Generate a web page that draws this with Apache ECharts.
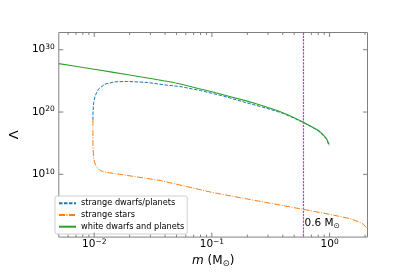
<!DOCTYPE html>
<html><head><meta charset="utf-8">
<script src="https://cdn.jsdelivr.net/npm/echarts@6/dist/echarts.min.js"></script>
<style>html,body{margin:0;padding:0;background:#fff}#c{width:409px;height:273px}</style>
</head><body><div id="c"></div>
<script>
const seriesNames = ['strange dwarfs/planets', 'strange stars', 'white dwarfs and planets'];

// mass m (solar masses) and log10(Lambda)
const dwarfMass = [0.00975, 0.00975, 0.00989, 0.01019, 0.01086, 0.01233, 0.01493, 0.01928, 0.02818, 0.0413, 0.0532, 0.08, 0.126, 0.2, 0.3, 0.4, 0.5, 0.6, 0.7, 0.8, 0.9, 0.95, 0.99];
const dwarfLogLambda = [18.72, 19.68, 21.55, 22.61, 23.68, 24.48, 24.85, 24.91, 24.75, 24.32, 24.11, 23.45, 22.55, 21.45, 20.55, 19.8, 19.02, 18.3, 17.64, 17.0, 16.1, 15.5, 14.6];

const starMass = [0.00975, 0.00975, 0.00989, 0.01019, 0.01052, 0.0112, 0.01233, 0.01694, 0.0363, 0.1, 0.222, 0.6, 1.08, 1.5, 1.81, 1.95, 2.06];
const starLogLambda = [18.72, 14.5, 12.48, 11.68, 11.15, 10.61, 10.35, 9.97, 9.01, 7.1, 5.87, 4.37, 3.45, 2.87, 2.3, 1.95, 1.4];

const wdMass = [0.005, 0.01, 0.02, 0.03, 0.05, 0.1, 0.2, 0.3, 0.4, 0.5, 0.6, 0.7, 0.8, 0.9, 0.95, 0.99];
const wdLogLambda = [27.77, 26.87, 25.95, 25.39, 24.63, 23.25, 21.75, 20.72, 19.9, 19.1, 18.35, 17.68, 17.07, 16.16, 15.6, 14.8];

// axis ranges
const xRange = [0.005, 2.1];
const yRange = [0.83, 5.9e32];

// ticks
const xMajorTicks = [0.01, 0.1, 1];
const xMinorTicks = [0.006, 0.007, 0.008, 0.009, 0.02, 0.03, 0.04, 0.05, 0.06, 0.07, 0.08, 0.09, 0.2, 0.3, 0.4, 0.5, 0.6, 0.7, 0.8, 0.9, 2];
const yMajorTicks = [1e10, 1e20, 1e30];
const yTickExponents = [10, 20, 30];

// annotation
const markerMass = 0.6;
const markerLabelLogLambda = 2.13;

const FONT = 'DejaVu Sans';
const AXIS_COLOR = '#808080';
const MARK_COLOR = 'rgb(205,50,205)';

function pairs(ms, logs) { return ms.map((m, i) => [m, Math.pow(10, logs[i])]); }

function expLabel(v, allowed) {
  const l = Math.log10(v);
  const e = Math.round(l);
  if (Math.abs(l - e) > 1e-6) return '';
  if (allowed && allowed.indexOf(e) < 0) return '';
  return '{a|10}{b|' + (e < 0 ? '\u2212' + (-e) : e) + '}';
}
const expRich = {
  a: { fontSize: 10.5, fontFamily: FONT, color: '#000', lineHeight: 13, verticalAlign: 'middle' },
  b: { fontSize: 7.5, fontFamily: FONT, color: '#000', lineHeight: 7, verticalAlign: 'top' }
};

const chart = echarts.init(document.getElementById('c'), null, { renderer: 'canvas' });

const xTickData = xMajorTicks.map(v => [v, 1e10, 1]).concat(xMinorTicks.map(v => [v, 1e10, 0]));
const yTickData = yMajorTicks.map(v => [0.1, v, 1]);

function tickLine(x1, y1, x2, y2) {
  return { type: 'line', shape: { x1, y1, x2, y2 }, style: { stroke: AXIS_COLOR, lineWidth: 1 } };
}

chart.setOption({
  animation: false,
  backgroundColor: '#fff',
  grid: { left: 50.5, top: 32.5, right: 41.5, bottom: 34.5, show: true, borderColor: AXIS_COLOR, borderWidth: 1, backgroundColor: 'transparent' },
  xAxis: {
    type: 'log', min: xRange[0], max: xRange[1], logBase: 10,
    axisLine: { show: false }, axisTick: { show: false }, splitLine: { show: false },
    axisLabel: { interval: 0, margin: 1, formatter: v => expLabel(v), rich: expRich },
    name: '{i|m} (M{s|\u2299})', nameLocation: 'middle', nameGap: 15,
    nameTextStyle: {
      fontSize: 12, fontFamily: FONT, color: '#000',
      rich: {
        i: { fontStyle: 'italic', fontSize: 12, fontFamily: FONT, lineHeight: 14, verticalAlign: 'middle' },
        s: { fontSize: 8.5, fontFamily: FONT, lineHeight: 8, verticalAlign: 'bottom' }
      }
    }
  },
  yAxis: {
    type: 'log', min: yRange[0], max: yRange[1], logBase: 10,
    axisLine: { show: false }, axisTick: { show: false }, splitLine: { show: false },
    axisLabel: { interval: 0, margin: 4, formatter: v => expLabel(v, yTickExponents), rich: expRich },
    name: '\u039b', nameLocation: 'middle', nameRotate: 90, nameGap: 32,
    nameTextStyle: { fontSize: 13, fontFamily: FONT, color: '#000' }
  },
  legend: {
    data: seriesNames, orient: 'vertical', left: 55, top: 196,
    itemWidth: 17, itemHeight: 8, itemGap: 1.7, padding: [2.3, 3, 2.3, 3],
    backgroundColor: '#fff', borderColor: '#d0d0d0', borderWidth: 1, borderRadius: 2,
    selectedMode: false,
    itemStyle: { opacity: 0, borderWidth: 0 },
    textStyle: { fontSize: 8.2, fontFamily: FONT, color: '#000', lineHeight: 10 }
  },
  series: [
    {
      type: 'custom', silent: true, z: 1, clip: false,
      data: [[markerMass, Math.pow(10, markerLabelLogLambda)]],
      renderItem: (params, api) => {
        const cs = params.coordSys;
        const p = api.coord([api.value(0), api.value(1)]);
        return {
          type: 'group', children: [
            { type: 'line', shape: { x1: p[0], y1: cs.y, x2: p[0], y2: cs.y + cs.height },
              style: { stroke: MARK_COLOR, lineWidth: 1.2, lineDash: [2.2, 1.1], opacity: 1 } },
            { type: 'text', x: p[0] + 1, y: p[1],
              style: {
                text: '{a|' + markerMass + ' M}{s|\u2299}', verticalAlign: 'middle', align: 'left',
                rich: {
                  a: { fontSize: 10.5, fontFamily: FONT, fill: '#000', lineHeight: 13, verticalAlign: 'middle' },
                  s: { fontSize: 7.5, fontFamily: FONT, fill: '#000', lineHeight: 8, verticalAlign: 'bottom' }
                }
              } }
          ]
        };
      }
    },
    {
      name: seriesNames[0], type: 'line', data: pairs(dwarfMass, dwarfLogLambda),
      symbol: 'none', color: '#1f77b4', z: 2,
      lineStyle: { color: '#1f77b4', width: 1, type: [3.5, 1.5] }
    },
    {
      name: seriesNames[1], type: 'line', data: pairs(starMass, starLogLambda),
      symbol: 'none', color: '#ff7f0e', z: 2,
      lineStyle: { color: '#ff7f0e', width: 1, type: [6, 1.5, 1, 1.5] }
    },
    {
      name: seriesNames[2], type: 'line', data: pairs(wdMass, wdLogLambda),
      symbol: 'none', color: '#2ca02c', z: 3, smooth: 0.15,
      lineStyle: { color: '#2ca02c', width: 1.1 }
    },
    {
      type: 'custom', silent: true, z: 5, clip: false,
      data: xTickData,
      renderItem: (params, api) => {
        const cs = params.coordSys;
        const x = api.coord([api.value(0), api.value(1)])[0];
        const len = api.value(2) ? 4.5 : 2.5;
        const b = cs.y + cs.height;
        return { type: 'group', children: [tickLine(x, b, x, b - len), tickLine(x, cs.y, x, cs.y + len)] };
      }
    },
    {
      type: 'custom', silent: true, z: 5, clip: false,
      data: yTickData,
      renderItem: (params, api) => {
        const cs = params.coordSys;
        const y = api.coord([api.value(0), api.value(1)])[1];
        const len = 4.5;
        const r = cs.x + cs.width;
        return { type: 'group', children: [tickLine(cs.x, y, cs.x + len, y), tickLine(r, y, r - len, y)] };
      }
    }
  ]
});
</script>
</body></html>
